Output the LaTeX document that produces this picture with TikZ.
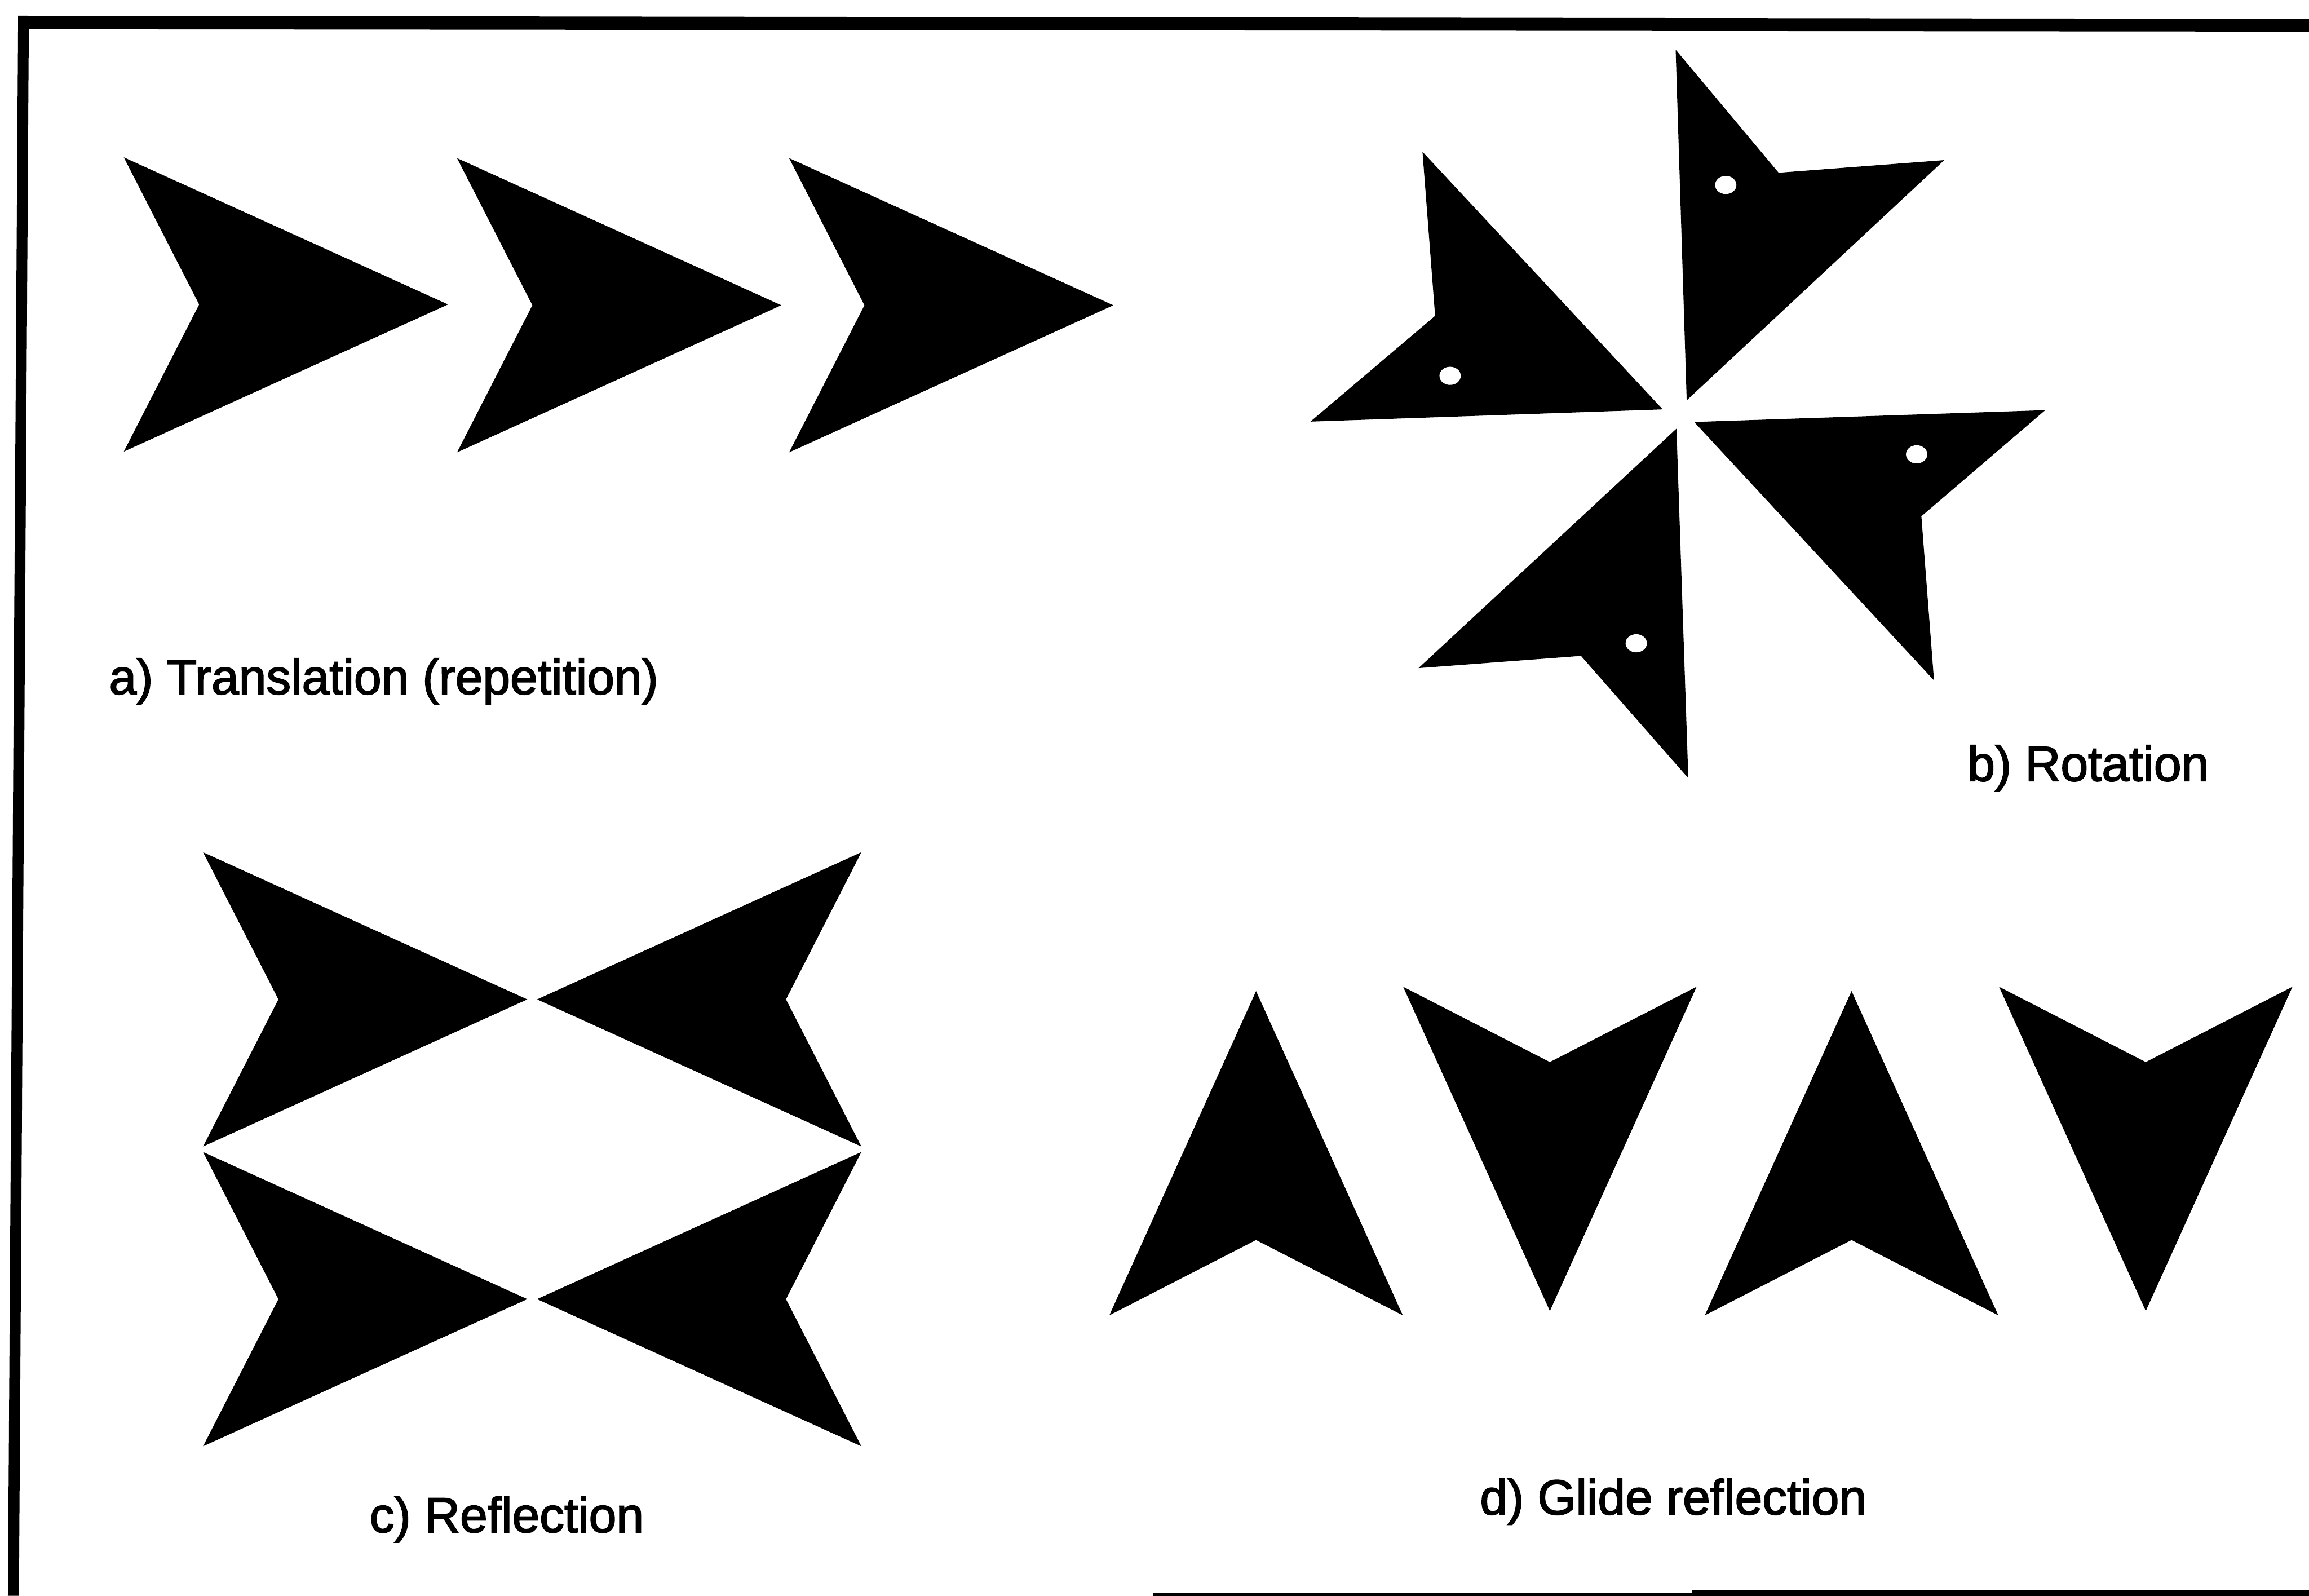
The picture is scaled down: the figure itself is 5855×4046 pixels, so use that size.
\documentclass[tikz,border=0pt]{standalone}
\usepackage{fontspec}
\setmainfont{Liberation Sans}
\newfontfamily\lblfont[FakeBold=2.2]{Liberation Sans}
\begin{document}
\begin{tikzpicture}[x=0.01cm,y=-0.01cm,
  solid shape/.style={fill=black},
  hole/.style={fill=white},
  lbl/.style={inner sep=0pt,font=\lblfont\fontsize{35.57pt}{42pt}\selectfont},
  arrowhead/.pic={\fill[solid shape] (0,-373) -- (822,0) -- (0,373) -- (191,0) -- cycle;},
  uparrow/.pic={\fill[solid shape] (0,0) -- (372,822) -- (0,631) -- (-372,822) -- cycle;},
  downarrow/.pic={\fill[solid shape] (-372,0) -- (0,191) -- (372,0) -- (0,822) -- cycle;}]
\useasboundingbox (0,0) rectangle (5855,4046);
% frame (scanned, partly cut)
\fill[solid shape] (46,40) -- (5855,48) -- (5855,80) -- (73,74) -- (48,4046) -- (20,4046) -- cycle;
\fill[solid shape] (2925,4039) rectangle (4290,4046);
\fill[solid shape] (4290,4033) rectangle (5855,4046);
% a) translation
\pic at (314,772) {arrowhead};
\pic at (1159,774) {arrowhead};
\pic at (2001,774) {arrowhead};
% b) rotation
\fill[solid shape] (3607,385) -- (3639,801) -- (3323,1069) -- (4216,1038) -- cycle;
\fill[solid shape] (4249,126) -- (4510,438) -- (4930,406) -- (4277,1015) -- cycle;
\fill[solid shape] (4296,1070) -- (5186,1040) -- (4872,1309) -- (4904,1725) -- cycle;
\fill[solid shape] (4251,1087) -- (4281,1973) -- (4009,1663) -- (3597,1694) -- cycle;
\fill[hole] (3677,953) ellipse [x radius=27, y radius=23];
\fill[hole] (4376,469) ellipse [x radius=27, y radius=23];
\fill[hole] (4860,1152) ellipse [x radius=27, y radius=23];
\fill[hole] (4149,1631) ellipse [x radius=27, y radius=23];
% c) reflection
\pic at (515,2534) {arrowhead};
\pic[xscale=-1] at (2184,2534) {arrowhead};
\pic at (515,3294) {arrowhead};
\pic[xscale=-1] at (2184,3294) {arrowhead};
% d) glide reflection
\pic at (3185,2513) {uparrow};
\pic at (3930,2502) {downarrow};
\pic at (4695,2513) {uparrow};
\pic at (5441,2502) {downarrow};
% labels
\node[lbl, anchor=base west] (ta) at (276,1760) {a) Translation (repetition)};
\node[lbl, anchor=base] (tb) at (5295,1980) {b) Rotation};
\node[lbl, anchor=base] (tc) at (1285,3885) {c) Reflection};
\node[lbl, anchor=base] (td) at (4243,3840) {d) Glide reflection};
\end{tikzpicture}
\end{document}
